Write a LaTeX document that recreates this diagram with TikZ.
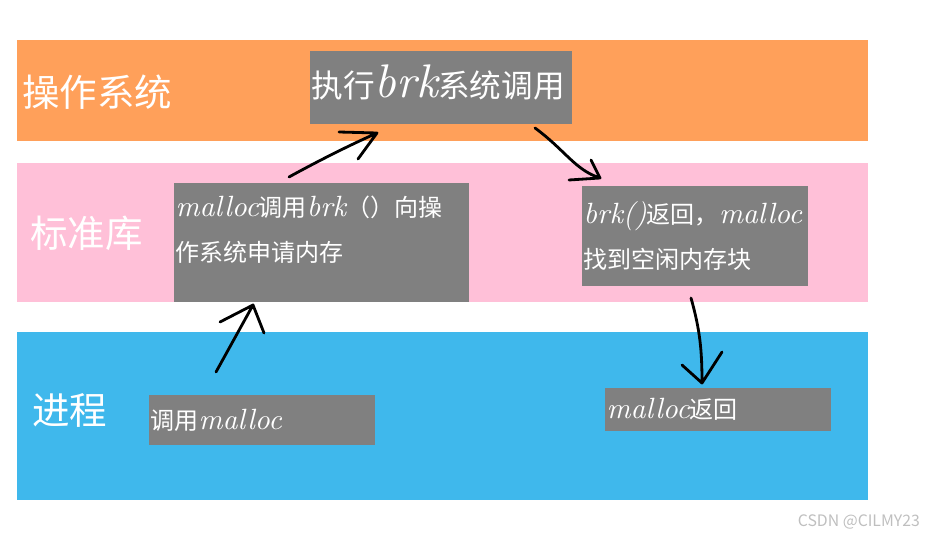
\documentclass[tikz,border=0pt]{standalone}
\usepackage{fontspec}
\setmainfont{Noto Sans CJK SC}
\newfontfamily\handfont{lmroman10-italic.otf}[Scale=1.22]
\newcommand\hw[1]{{\handfont #1}}
\usetikzlibrary{positioning}
\definecolor{osorange}{RGB}{255,160,90}
\definecolor{libpink}{RGB}{255,192,216}
\definecolor{procblue}{RGB}{63,184,236}
\definecolor{boxgray}{RGB}{128,128,128}
\tikzset{
  bandlabel/.style={anchor=west, text=white, inner sep=0pt, font=\fontsize{32pt}{36pt}\selectfont},
  graybox/.style={fill=boxgray, text=white, align=left, inner xsep=1.5pt, inner ysep=0pt, font=\fontsize{20.5pt}{38.4pt}\selectfont},
  pen/.style={black, line width=2.4pt, line cap=round, line join=round},
  watermark/.style={text=gray!50, font=\fontsize{13.5pt}{15pt}\selectfont}
}

\begin{document}
\begin{tikzpicture}[x=0.03cm, y=-0.03cm]
  \useasboundingbox (0,0) rectangle (928,537);
  % layers
  \fill[osorange] (17,40) rectangle (868,141);
  \fill[libpink] (17,163) rectangle (868,302);
  \fill[procblue] (17,332) rectangle (868,500);
  \node[bandlabel] (os) at (22,92) {操作系统};
  \node[bandlabel] (lib) at (30,233) {标准库};
  \node[bandlabel] (proc) at (32,410) {进程};
  % steps
  \node[graybox, minimum width=7.86cm, minimum height=2.19cm, text width=7.76cm,
        font=\fontsize{27pt}{30pt}\selectfont] (brkcall) at (441,87.5)
    {执行{\fontsize{33pt}{30pt}\selectfont\hw{brk}}系统调用\rule[-10.5pt]{0pt}{0pt}};
  \node[graybox, minimum width=8.85cm, minimum height=3.57cm, text width=8.75cm] (libcall) at (321.5,242.5)
    {\hw{malloc}调用\hw{brk}（）向操\\作系统申请内存\rule[-23.5pt]{0pt}{0pt}};
  \node[graybox, minimum width=6.78cm, minimum height=3.0cm, text width=6.68cm] (libret) at (695,236)
    {\hw{brk()}返回，\hw{malloc}\\找到空闲内存块};
  \node[graybox, minimum width=6.78cm, minimum height=1.5cm, text width=6.68cm] (usercall) at (262,420)
    {调用\hw{malloc}};
  \node[graybox, minimum width=6.78cm, minimum height=1.29cm, text width=6.68cm] (userret) at (718,409.5)
    {\hw{malloc}返回};
  \node[watermark, anchor=east] (csdn) at (924,522) {CSDN @CILMY23};
  % hand drawn arrows
  \coordinate (a1s) at (216,372); \coordinate (a1t) at (253,305);
  \coordinate (a1l) at (220,322); \coordinate (a1r) at (264,333);
  \coordinate (a2s) at (289,177); \coordinate (a2t) at (377,133);
  \coordinate (a2l) at (339,132); \coordinate (a2r) at (358,159);
  \coordinate (a3s) at (535,128); \coordinate (a3t) at (600,178);
  \coordinate (a3l) at (569,180); \coordinate (a3r) at (591,160);
  \coordinate (a4s) at (691,298); \coordinate (a4t) at (702,383);
  \coordinate (a4l) at (682,365); \coordinate (a4r) at (722,352);
  \draw[pen] (a1s) -- (a1t) (a1l) -- (a1t) -- (a1r);
  \draw[pen] (a2s) .. controls (320,160) and (350,145) .. (a2t) (a2l) -- (a2t) -- (a2r);
  \draw[pen] (a3s) .. controls (565,150) and (575,170) .. (a3t) (a3l) -- (a3t) -- (a3r);
  \draw[pen] (a4s) .. controls (700,330) and (702,350) .. (a4t) (a4l) -- (a4t) -- (a4r);
\end{tikzpicture}
\end{document}
